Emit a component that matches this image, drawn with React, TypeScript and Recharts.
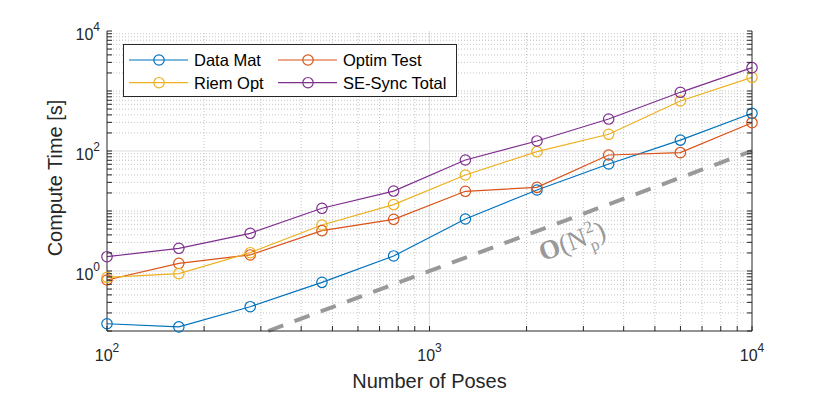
import React from 'react';
import { LineChart, Line, XAxis, YAxis, ReferenceLine, ReferenceDot, Legend } from 'recharts';

// ---- data ----
const poses = [100, 167, 278, 464, 774, 1292, 2154, 3594, 5995, 10000];
const dataMat = [0.132, 0.117, 0.254, 0.647, 1.78, 7.36, 22.4, 60.7, 152, 425];
const optimTest = [0.708, 1.34, 1.85, 4.7, 7.27, 21.3, 24.8, 85.8, 93.8, 296];
const riemOpt = [0.784, 0.903, 2.02, 5.84, 12.8, 39.8, 97.5, 190, 681, 1690];
const seSyncTotal = [1.73, 2.39, 4.25, 11.1, 21.5, 70.8, 147, 341, 951, 2450];

const seriesNames = ['Data Mat', 'Optim Test', 'Riem Opt', 'SE-Sync Total'];
const seriesKeys = ['dataMat', 'optimTest', 'riemOpt', 'seSyncTotal'];
const seriesColors = ['#0072BD', '#D95319', '#EDB120', '#7E2F8E'];

const quadPoses = [316.2, 10000];
const quadTime = [0.1, 100];

const xMajorTicks = [100, 1000, 10000];
const xMinorTicks = [200, 300, 400, 500, 600, 700, 800, 900, 2000, 3000, 4000, 5000, 6000, 7000, 8000, 9000];
const yMajorTicks = [1, 100, 10000];
const yMinorTicks = [
  0.2, 0.3, 0.4, 0.5, 0.6, 0.7, 0.8, 0.9,
  2, 3, 4, 5, 6, 7, 8, 9, 10,
  20, 30, 40, 50, 60, 70, 80, 90,
  200, 300, 400, 500, 600, 700, 800, 900, 1000,
  2000, 3000, 4000, 5000, 6000, 7000, 8000, 9000,
];
const xTicks = [...xMajorTicks, ...xMinorTicks].sort((a, b) => a - b);
const yTicks = [0.1, ...yMajorTicks, ...yMinorTicks].sort((a, b) => a - b);

const rows = poses.map((x, i) => ({
  x,
  dataMat: dataMat[i],
  optimTest: optimTest[i],
  riemOpt: riemOpt[i],
  seSyncTotal: seSyncTotal[i],
}));
const quadRows = quadPoses.map((x, i) => ({ x, quad: quadTime[i] }));

// ---- styles ----
const AX = '#262626';
const FONT = '"Liberation Sans", Arial, Helvetica, sans-serif';
const TL = 5;
const MAJOR_GRID = '#dedede';
const MINOR_GRID = '#c4c4c4';

const expOf = (v: number) => String(Math.round(Math.log10(v)));

const XBottomTick = (p: any) => {
  const v = p.payload.value;
  const major = xMajorTicks.includes(v);
  return (
    <g>
      <line x1={p.x} x2={p.x} y1={p.y} y2={p.y - TL} stroke={AX} strokeWidth={1} />
      {major && (
        <text x={p.x} y={p.y + 30} textAnchor="middle" fill={AX} fontFamily={FONT} fontSize={16}>
          <tspan>10</tspan>
          <tspan dy={-9} fontSize={12}>{expOf(v)}</tspan>
        </text>
      )}
    </g>
  );
};

const XTopTick = (p: any) => (
  <line x1={p.x} x2={p.x} y1={p.y} y2={p.y + TL} stroke={AX} strokeWidth={1} />
);

const YLeftTick = (p: any) => {
  const v = p.payload.value;
  const major = yMajorTicks.includes(v);
  return (
    <g>
      <line x1={p.x} x2={p.x + TL} y1={p.y} y2={p.y} stroke={AX} strokeWidth={1} />
      {major && (
        <text x={p.x - 7} y={p.y + 9} textAnchor="end" fill={AX} fontFamily={FONT} fontSize={16}>
          <tspan>10</tspan>
          <tspan dy={-9} fontSize={12}>{expOf(v)}</tspan>
        </text>
      )}
    </g>
  );
};

const YRightTick = (p: any) => (
  <line x1={p.x} x2={p.x - TL} y1={p.y} y2={p.y} stroke={AX} strokeWidth={1} />
);

const LegendBox = () => {
  const W = 334;
  const H = 53;
  const colX = [6, 155];
  const rowY = [16, 38.7];
  return (
    <svg width={W} height={H} style={{ display: 'block' }}>
      <rect x={0.5} y={0.5} width={W - 1} height={H - 1} fill="#fff" stroke={AX} strokeWidth={1} />
      {seriesNames.map((name, i) => {
        const cx = colX[i % 2];
        const cy = rowY[Math.floor(i / 2)];
        return (
          <g key={name}>
            <line x1={cx} x2={cx + 59} y1={cy} y2={cy} stroke={seriesColors[i]} strokeWidth={1.2} />
            <circle cx={cx + 30} cy={cy} r={5.2} fill="none" stroke={seriesColors[i]} strokeWidth={1.2} />
            <text x={cx + 65} y={cy + 6} fill="#000" fontFamily={FONT} fontSize={16.5}>
              {name}
            </text>
          </g>
        );
      })}
    </svg>
  );
};

const QuadLabel = (p: any) => {
  const cx = p.cx;
  const cy = p.cy;
  return (
    <text
      x={cx}
      y={cy + 9}
      transform={`rotate(-20 ${cx} ${cy})`}
      textAnchor="middle"
      fill="#999999"
      fontFamily='"Liberation Serif", "DejaVu Serif", serif'
      fontSize={27}
    >
      <tspan fontWeight="bold">O</tspan>
      <tspan>(N</tspan>
      <tspan fontSize={17} dx={1} dy={-11}>2</tspan>
      <tspan fontSize={17} dx={-8.5} dy={19}>p</tspan>
      <tspan dx={1} dy={-8}>)</tspan>
    </text>
  );
};

export default function App() {
  return (
    <div style={{ position: 'absolute', left: 0, top: 0, width: 830, height: 394, background: '#fff' }}>
      <LineChart width={830} height={394} data={rows} margin={{ top: 31, right: 0, bottom: 0, left: 0 }}>
        <XAxis
          xAxisId="b"
          dataKey="x"
          type="number"
          scale="log"
          domain={[100, 10000]}
          ticks={xTicks}
          interval={0}
          tickSize={0}
          tickMargin={0}
          tickLine={false}
          tick={XBottomTick}
          axisLine={{ stroke: AX, strokeWidth: 1 }}
          height={63}
          label={{
            content: (lp: any) => {
              const vb = lp.viewBox || {};
              return (
                <text
                  x={vb.x + vb.width / 2}
                  y={vb.y + 57}
                  textAnchor="middle"
                  fill={AX}
                  fontFamily={FONT}
                  fontSize={20}
                >
                  Number of Poses
                </text>
              );
            },
          }}
        />
        <XAxis
          xAxisId="t"
          orientation="top"
          dataKey="x"
          type="number"
          scale="log"
          domain={[100, 10000]}
          allowDataOverflow
          ticks={xTicks}
          interval={0}
          tickSize={0}
          tickMargin={0}
          tickLine={false}
          tick={XTopTick}
          axisLine={{ stroke: AX, strokeWidth: 1 }}
          height={0}
        />
        <YAxis
          yAxisId="l"
          type="number"
          scale="log"
          domain={[0.1, 10000]}
          ticks={yTicks}
          interval={0}
          tickSize={0}
          tickMargin={0}
          tickLine={false}
          tick={YLeftTick}
          axisLine={{ stroke: AX, strokeWidth: 1 }}
          width={107}
          label={{
            content: (lp: any) => {
              const vb = lp.viewBox || {};
              const lx = vb.x + vb.width - 52;
              const ly = vb.y + vb.height / 2 - 3;
              return (
                <text
                  x={lx}
                  y={ly}
                  transform={`rotate(-90 ${lx} ${ly})`}
                  textAnchor="middle"
                  dominantBaseline="central"
                  fill={AX}
                  fontFamily={FONT}
                  fontSize={20}
                >
                  Compute Time [s]
                </text>
              );
            },
          }}
        />
        <YAxis
          yAxisId="r"
          orientation="right"
          type="number"
          scale="log"
          domain={[0.1, 10000]}
          allowDataOverflow
          ticks={yTicks}
          interval={0}
          tickSize={0}
          tickMargin={0}
          tickLine={false}
          tick={YRightTick}
          axisLine={{ stroke: AX, strokeWidth: 1 }}
          width={78}
        />

        {xMinorTicks.map((v) => (
          <ReferenceLine key={'xm' + v} xAxisId="b" yAxisId="l" x={v} stroke={MINOR_GRID} strokeWidth={1} strokeDasharray="1 2" />
        ))}
        {yMinorTicks.map((v) => (
          <ReferenceLine key={'ym' + v} xAxisId="b" yAxisId="l" y={v} stroke={MINOR_GRID} strokeWidth={1} strokeDasharray="1 2" />
        ))}
        {[1000].map((v) => (
          <ReferenceLine key={'xM' + v} xAxisId="b" yAxisId="l" x={v} stroke={MAJOR_GRID} strokeWidth={1} />
        ))}
        {[1, 100].map((v) => (
          <ReferenceLine key={'yM' + v} xAxisId="b" yAxisId="l" y={v} stroke={MAJOR_GRID} strokeWidth={1} />
        ))}

        {seriesKeys.map((k, i) => (
          <Line
            key={k}
            xAxisId="b"
            yAxisId="l"
            type="linear"
            dataKey={k}
            name={seriesNames[i]}
            stroke={seriesColors[i]}
            strokeWidth={1.2}
            dot={{ r: 5.2, fill: 'none', stroke: seriesColors[i], strokeWidth: 1.2 }}
            activeDot={false}
            isAnimationActive={false}
          />
        ))}
        <Line
          xAxisId="b"
          yAxisId="l"
          data={quadRows}
          dataKey="quad"
          type="linear"
          stroke="#999999"
          strokeWidth={4}
          strokeDasharray="16 12"
          dot={false}
          activeDot={false}
          legendType="none"
          isAnimationActive={false}
        />
        <ReferenceDot
          xAxisId="b"
          yAxisId="l"
          x={2766}
          y={3.16}
          r={0}
          ifOverflow="visible"
          shape={QuadLabel}
        />
        <Legend
          verticalAlign="middle"
          layout="horizontal"
          align="center"
          content={LegendBox}
          wrapperStyle={{ position: 'absolute', left: 123, top: 44, width: 334, height: 53, margin: 0, padding: 0 }}
        />
      </LineChart>
    </div>
  );
}
